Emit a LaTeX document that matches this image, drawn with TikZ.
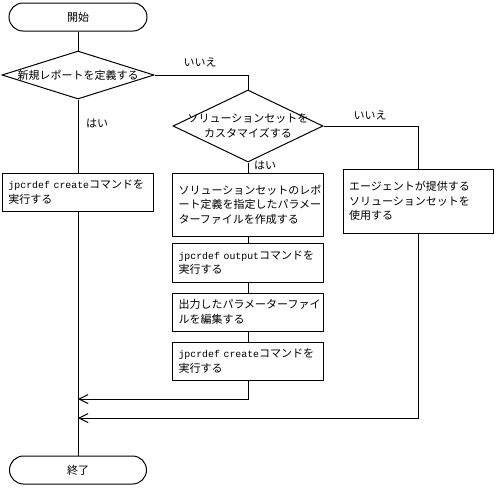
\documentclass[tikz,border=0pt]{standalone}
\usepackage{fontspec}
\setmainfont{Noto Sans CJK JP}
\newfontfamily\latinmono{Liberation Mono}
\usetikzlibrary{arrows.meta,shapes.geometric}
\newcommand{\jm}[1]{{\latinmono\fontsize{7.4}{10.9}\selectfont #1}}
\begin{document}
\begin{tikzpicture}[x=0.75pt,y=-0.75pt,line width=0.75pt,
  every node/.style={font=\fontsize{8.25}{10.9}\selectfont},
  term/.style={draw,rectangle,rounded corners=10.5pt,minimum height=21pt,inner sep=0pt},
  dia/.style={draw,diamond,inner sep=0pt},
  procbox/.style={draw,rectangle,align=left,inner xsep=4.5pt,inner ysep=0pt,text width=104.25pt,minimum width=113.25pt},
  lbl/.style={inner sep=0pt},
  arr/.style={-{Straight Barb[length=6.75pt,width=6.75pt]}}]
\useasboundingbox (0,0) rectangle (496,487);

\node[term,minimum width=103.5pt] (start) at (78,17) {開始};
\node[dia,minimum width=114pt,minimum height=36pt] (d1) at (78,75) {};
\node[lbl] (d1t) at (d1.center) {新規レポートを定義する};
\node[procbox,minimum height=28.5pt] (b1) at (78,192) {\jm{jpcrdef create}コマンドを\\実行する};

\node[dia,minimum width=112.5pt,minimum height=54pt] (d2) at (248,126) {};
\node[lbl,align=center] (d2t) at (d2.center) {ソリューションセットを\\カスタマイズする};

\node[procbox,minimum height=47.25pt] (ba) at (248,204.5) {ソリューションセットのレポ\\ート定義を指定したパラメー\\ターファイルを作成する};
\node[procbox,minimum height=29.25pt] (bb) at (248,262.5) {\jm{jpcrdef output}コマンドを\\実行する};
\node[procbox,minimum height=28.5pt] (bc) at (248,312) {出力したパラメーターファイ\\ルを編集する};
\node[procbox,minimum height=28.5pt] (bd) at (248,361) {\jm{jpcrdef create}コマンドを\\実行する};

\node[procbox,minimum width=112.5pt,text width=103.5pt,minimum height=48pt] (br) at (418,201) {エージェントが提供する\\ソリューションセットを\\使用する};

\node[term,minimum width=102.75pt] (end) at (78,470) {終了};

\node[lbl] (no1) at (200,62) {いいえ};
\node[lbl] (no2) at (370,115) {いいえ};
\node[lbl] (yes1) at (97,123) {はい};
\node[lbl] (yes2) at (265,165) {はい};

\coordinate (m1) at (78,399);
\coordinate (m2) at (78,418);

\draw (start.south) -- (d1.north);
\draw (d1.south) -- (b1.north);
\draw (b1.south) -- (end.north);
\draw (d1.east) -| (d2.north);
\draw (d2.south) -- (ba.north);
\draw (ba.south) -- (bb.north);
\draw (bb.south) -- (bc.north);
\draw (bc.south) -- (bd.north);
\draw (d2.east) -| (br.north);
\draw[arr] (bd.south) |- (m1);
\draw[arr] (br.south) |- (m2);
\end{tikzpicture}
\end{document}
